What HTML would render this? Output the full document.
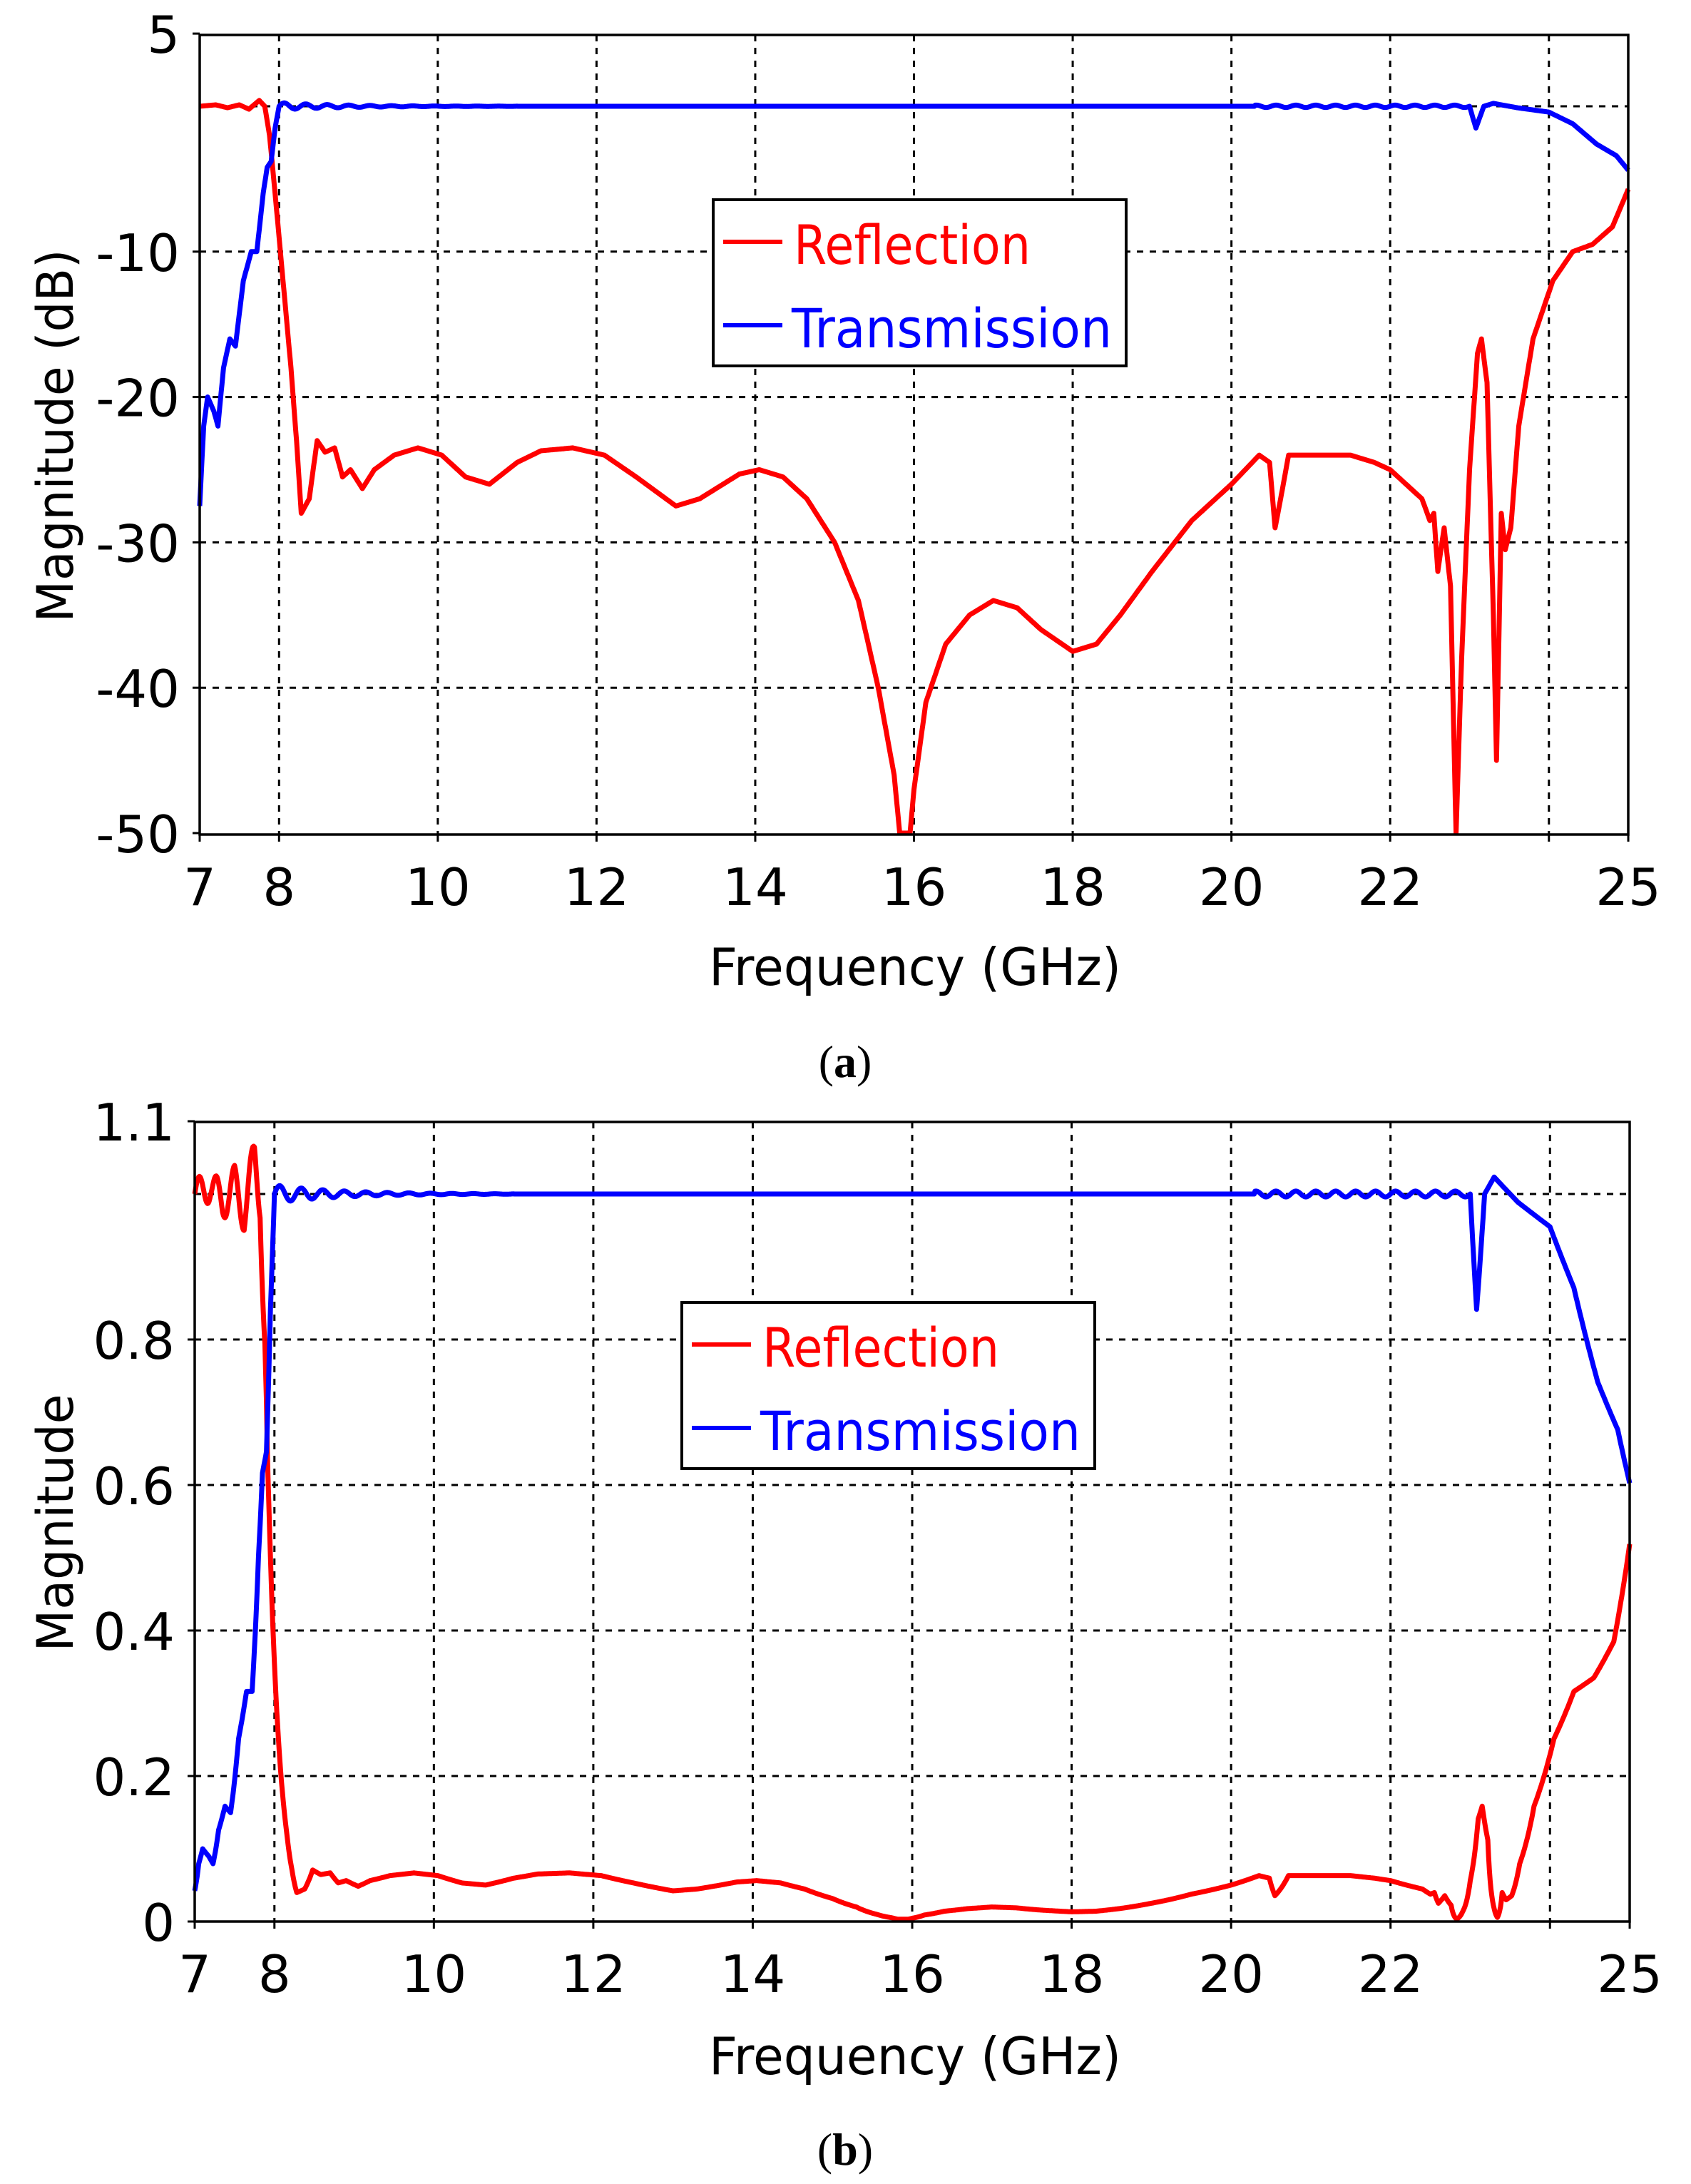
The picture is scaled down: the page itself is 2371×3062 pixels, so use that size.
<!DOCTYPE html>
<html><head><meta charset="utf-8"><style>
html,body{margin:0;padding:0;background:#fff;}
svg{display:block;}
text{font-family:"DejaVu Sans","Liberation Sans",sans-serif;}
</style></head><body>
<svg id="s" width="2371" height="3062" viewBox="0 0 2371 3062" xmlns="http://www.w3.org/2000/svg">
<rect width="2371" height="3062" fill="#fff"/>
<g id="A"></g>
<g id="B"></g>
<text x="1283" y="1356" font-size="72" text-anchor="middle" dominant-baseline="central" textLength="578" lengthAdjust="spacingAndGlyphs">Frequency (GHz)</text>
<text x="1283" y="2883" font-size="72" text-anchor="middle" dominant-baseline="central" textLength="578" lengthAdjust="spacingAndGlyphs">Frequency (GHz)</text>
<text transform="translate(78,611) rotate(-90)" font-size="70" text-anchor="middle" dominant-baseline="central" textLength="523" lengthAdjust="spacingAndGlyphs">Magnitude (dB)</text>
<text transform="translate(78,2135) rotate(-90)" font-size="70" text-anchor="middle" dominant-baseline="central" textLength="361" lengthAdjust="spacingAndGlyphs">Magnitude</text>
<text x="1185" y="1510" font-size="64" text-anchor="middle" style="font-family:'Liberation Serif',serif">(<tspan font-weight="bold">a</tspan>)</text>
<text x="1185" y="3035" font-size="64" text-anchor="middle" style="font-family:'Liberation Serif',serif">(<tspan font-weight="bold">b</tspan>)</text>
</svg>
<script>
var NS="http://www.w3.org/2000/svg";
function el(p,t,a,txt){var e=document.createElementNS(NS,t);for(var k in a)e.setAttribute(k,a[k]);if(txt!==undefined)e.textContent=txt;p.appendChild(e);return e;}
function interp(d,f){for(var i=0;i<d.length-1;i++){if(f>=d[i][0]&&f<=d[i+1][0]){var t=(f-d[i][0])/(d[i+1][0]-d[i][0]);return d[i][1]+t*(d[i+1][1]-d[i][1]);}}return d[d.length-1][1];}
var R=[[7,0],[7.2,0.1],[7.35,-0.1],[7.5,0.1],[7.62,-0.2],[7.75,0.4],[7.82,0],[7.88,-2],[7.95,-6],[8.05,-12],[8.15,-18],[8.22,-23],[8.28,-28],[8.38,-27],[8.48,-23],[8.58,-23.8],[8.7,-23.5],[8.8,-25.5],[8.9,-25],[9.05,-26.3],[9.2,-25],[9.45,-24],[9.75,-23.5],[10.05,-24],[10.35,-25.5],[10.65,-26],[11,-24.5],[11.3,-23.7],[11.7,-23.5],[12.1,-24],[12.5,-25.5],[13,-27.5],[13.3,-27],[13.8,-25.3],[14.05,-25],[14.35,-25.5],[14.65,-27],[15,-30],[15.3,-34],[15.55,-40],[15.75,-46],[15.82,-50],[15.95,-50],[16,-47],[16.15,-41],[16.4,-37],[16.7,-35],[17,-34],[17.3,-34.5],[17.6,-36],[18,-37.5],[18.3,-37],[18.6,-35],[19,-32],[19.5,-28.5],[20,-26],[20.35,-24],[20.48,-24.5],[20.55,-29],[20.62,-27],[20.72,-24],[21,-24],[21.5,-24],[21.8,-24.5],[22,-25],[22.2,-26],[22.4,-27],[22.5,-28.5],[22.55,-28],[22.6,-32],[22.68,-29],[22.76,-33],[22.83,-50],[22.9,-38],[23.0,-25],[23.1,-17],[23.15,-16],[23.22,-19],[23.3,-35],[23.34,-45],[23.4,-28],[23.45,-30.5],[23.52,-29],[23.62,-22],[23.8,-16],[24.05,-12],[24.3,-10],[24.55,-9.5],[24.8,-8.3],[25,-5.7]];
var T=[[7,-27.5],[7.05,-22],[7.1,-20],[7.18,-21],[7.23,-22],[7.3,-18],[7.38,-16],[7.45,-16.5],[7.55,-12],[7.65,-10],[7.72,-10],[7.8,-6],[7.85,-4.2],[7.9,-3.8],[7.95,-1.5],[8.0,0],[23.0,0],[23.08,-1.5],[23.18,0],[23.3,0.2],[23.6,-0.1],[24,-0.4],[24.3,-1.2],[24.6,-2.6],[24.85,-3.4],[25,-4.4]];
function rip(f,isT){var r=0;if(isT){if(f>8&&f<11)r=0.25*Math.exp(-(f-8)/0.8)*Math.sin((f-8)*2*Math.PI/0.27);if(f>20.3&&f<23)r=0.08*Math.sin(f*2*Math.PI/0.25);}return r;}
function build(g,cfg){
 var X=function(f){return cfg.x0+(f-7)*cfg.sx;},Y=cfg.Y;
 for(var f=8;f<25;f+=2){var xx=X(f);el(g,"line",{x1:xx,y1:cfg.top,x2:xx,y2:cfg.bot,stroke:"#000","stroke-width":3,"stroke-dasharray":"9,9"});}
 cfg.grid.forEach(function(v){var yy=Y(v);el(g,"line",{x1:cfg.x0,y1:yy,x2:cfg.x1,y2:yy,stroke:"#000","stroke-width":3,"stroke-dasharray":"9,9"});});
 [["#f00",false],["#00f",true]].forEach(function(c){var pts=[];for(var f=7;f<=25.0001;f+=0.01){var d=interp(c[1]?T:R,f);if(cfg.lin){var m=Math.pow(10,d/20);m+=rip(f,c[1])*0.05*(c[1]?1:0);if(!c[1]&&f<7.9)m+=0.02*Math.sin((f-7)*2*Math.PI/0.22)*(1+(f-7)*0.8);pts.push(X(f).toFixed(1)+","+Y(Math.max(0,m)).toFixed(1));}else{d+=rip(f,c[1]);pts.push(X(f).toFixed(1)+","+Math.min(cfg.bot,Y(d)).toFixed(1));}}
  el(g,"polyline",{points:pts.join(" "),fill:"none",stroke:c[0],"stroke-width":7,"stroke-linejoin":"round"});});
 el(g,"rect",{x:cfg.x0,y:cfg.top,width:cfg.x1-cfg.x0,height:cfg.bot-cfg.top,fill:"none",stroke:"#000","stroke-width":3.5});
 [7,8,10,12,14,16,18,20,22,24,25].forEach(function(f){var xx=X(f);el(g,"line",{x1:xx,y1:cfg.bot,x2:xx,y2:cfg.bot+10,stroke:"#000","stroke-width":3});if(f!=24)el(g,"text",{x:xx,y:cfg.bot+99,"font-size":72,"text-anchor":"middle"},""+f);});
 cfg.ylab.forEach(function(v){var yy=Y(v[0]);el(g,"line",{x1:cfg.x0-10,y1:yy,x2:cfg.x0,y2:yy,stroke:"#000","stroke-width":3});el(g,"text",{x:cfg.x0-28,y:yy+27,"font-size":72,"text-anchor":"end"},v[1]);});
 var L=cfg.leg;el(g,"rect",{x:L[0],y:L[1],width:579,height:233,fill:"#fff",stroke:"#000","stroke-width":4});
 el(g,"line",{x1:L[0]+14,y1:L[1]+59,x2:L[0]+97,y2:L[1]+59,stroke:"#f00","stroke-width":6});
 el(g,"line",{x1:L[0]+14,y1:L[1]+176,x2:L[0]+97,y2:L[1]+176,stroke:"#00f","stroke-width":6});
 el(g,"text",{x:L[0]+113,y:L[1]+90,"font-size":76,fill:"#f00",textLength:332,lengthAdjust:"spacingAndGlyphs"},"Reflection");
 el(g,"text",{x:L[0]+110,y:L[1]+207,"font-size":76,fill:"#00f",textLength:449,lengthAdjust:"spacingAndGlyphs"},"Transmission");
}
build(document.getElementById("A"),{x0:280,x1:2283,sx:111.28,top:49,bot:1170,Y:function(d){return 149-d*20.38;},grid:[0,-10,-20,-30,-40],ylab:[[5,"5"],[-10,"-10"],[-20,"-20"],[-30,"-30"],[-40,"-40"],[-50,"-50"]],leg:[1000,280],lin:false});
build(document.getElementById("B"),{x0:273,x1:2285,sx:111.78,top:1573,bot:2694,Y:function(m){return 2694-m*1020;},grid:[1.0,0.8,0.6,0.4,0.2],ylab:[[1.1,"1.1"],[0.8,"0.8"],[0.6,"0.6"],[0.4,"0.4"],[0.2,"0.2"],[0,"0"]],leg:[956,1826],lin:true});
</script>
</body></html>
